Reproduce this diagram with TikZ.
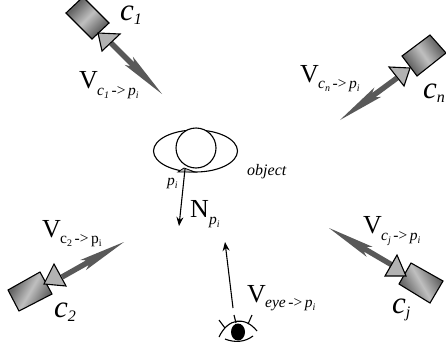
\documentclass[tikz,border=0pt]{standalone}
\usepackage{fontspec}
\setmainfont{Liberation Serif}
\usetikzlibrary{calc,arrows.meta}
\pgfdeclareverticalshading{camshade}{100bp}{color(0bp)=(black!60); color(30bp)=(black!60); color(50bp)=(black!25); color(70bp)=(black!60); color(100bp)=(black!60)}
\tikzset{
  x=1pt,y=-1pt,
  bodybox/.style={draw=black,line width=1.1pt,line join=miter,shading=camshade},
  lensbox/.style={draw=black,line width=1.1pt,line join=miter,fill=black!30},
  viewarrow/.style={fill=black!65,draw=none},
  thinarrow/.style={-{Stealth[length=9pt,width=7pt]},line width=1.1pt,black},
  outline/.style={draw=black,line width=1.1pt},
  vlabel/.style={inner sep=0pt,anchor=base west,text=black},
  sublabel/.style={inner sep=0pt,anchor=base west,text=black,font=\fontsize{15.5}{15.5}\selectfont},
  camlabel/.style={inner sep=0pt,anchor=base west,font=\fontsize{31}{31}\selectfont\itshape},
}
\newcommand{\bigV}[1]{\fontsize{26}{26}\selectfont #1}
\newcommand{\lowtext}[1]{\raisebox{-3pt}{\fontsize{10}{10}\selectfont #1}}
\newcommand{\lowcam}[1]{\raisebox{-4pt}{\fontsize{16}{16}\selectfont #1}}
\newcommand{\viewvec}[2]{%
  \fill[viewarrow]
    ($(#1)!2.7pt!-90:(#2)$) --
    ($(#2)!42pt!(#1)!2.7pt!-90:(#2)$) --
    ($(#2)!47pt!(#1)!5.8pt!-90:(#2)$) --
    (#2) --
    ($(#2)!47pt!(#1)!5.8pt!90:(#2)$) --
    ($(#2)!42pt!(#1)!2.7pt!90:(#2)$) --
    ($(#1)!2.7pt!90:(#2)$) -- cycle;}
\begin{document}
\begin{tikzpicture}
\useasboundingbox (0,0) rectangle (446,356);
% view vectors
\coordinate (s1) at (111,43);  \coordinate (t1) at (162,94);
\coordinate (sn) at (397,78);  \coordinate (tn) at (340,120);
\coordinate (s2) at (62,277);  \coordinate (t2) at (124,242);
\coordinate (sj) at (392,265); \coordinate (tj) at (329,228);
\viewvec{s1}{t1}
\viewvec{sn}{tn}
\viewvec{s2}{t2}
\viewvec{sj}{tj}
% cameras
\path[bodybox,shading angle=45] (66,13) -- (92,39) -- (109,23) -- (83,-3) -- cycle;
\path[lensbox] (98,33) -- (120,34) -- (102,51) -- cycle;
\path[bodybox,shading angle=-55] (402,56) -- (430,35) -- (446,53) -- (417,76) -- cycle;
\path[lensbox] (389,67) -- (410,68) -- (404,86) -- cycle;
\path[bodybox,shading angle=60] (8,290) -- (40,272) -- (52,294) -- (19,311) -- cycle;
\path[lensbox] (54,264) -- (66,286) -- (44,284) -- cycle;
\path[bodybox,shading angle=-60] (411,263) -- (443,281) -- (430,303) -- (399,284) -- cycle;
\path[lensbox] (397,255) -- (406,276) -- (385,276) -- cycle;
% object
\draw[outline] (195.5,151) ellipse [x radius=42,y radius=21];
\node[circle,draw=black,line width=1.1pt,fill=white,minimum size=40pt,inner sep=0pt] (ball) at (196,148) {};
\path[draw=black,line width=.8pt,fill=black!25] (184,168) -- (178,172) -- (195,172) -- cycle;
\coordinate (pi) at (185,169);
\coordinate (ntip) at (179,226);
\draw[thinarrow] (pi) -- (ntip);
% eye
\coordinate (eyefoot) at (233,308);
\coordinate (eyetip) at (225,242);
\draw[thinarrow] (eyefoot) -- (eyetip);
\fill[black] (238,332) ellipse [x radius=7,y radius=8.5];
\draw[outline] (219,337) .. controls (228,318) and (245,316) .. (257,331);
\draw[outline] (225,339) .. controls (235,343) and (245,342) .. (253,336);
\draw[outline] (219,320) -- (225,328);
\draw[outline] (234,315) -- (236,323);
\draw[outline] (252,315) -- (248,324);
% labels
\node[vlabel] (lv1) at (79,88) {\bigV{V}};
\node[sublabel] (ls1) at (97,95) {\textit{c}\lowtext{\textit{1}}\,{-}>\,\textit{p}\lowtext{\textit{i}}};
\node[vlabel] (lvn) at (300,82) {\bigV{V}};
\node[sublabel] (lsn) at (318,88) {\textit{c}\lowtext{\textit{n}}\,{-}>\,\textit{p}\lowtext{\textit{i}}};
\node[vlabel] (lv2) at (42,237) {\bigV{V}};
\node[sublabel] (ls2) at (60,243) {c\lowtext{2}\,{-}>\,p\lowtext{i}};
\node[vlabel] (lve) at (247,302) {\bigV{V}};
\node[sublabel] (lse) at (265,307) {\textit{eye}\,{-}>\,\textit{p}\lowtext{\textit{i}}};
\node[vlabel] (lvj) at (363,233) {\bigV{V}};
\node[sublabel] (lsj) at (381,240) {\textit{c}\lowtext{\textit{j}}\,{-}>\,\textit{p}\lowtext{\textit{i}}};
\node[vlabel] (ln) at (190,217) {\bigV{N}};
\node[sublabel] (lnp) at (209,224) {\textit{p}\lowtext{\textit{i}}};
\node[sublabel] (lpi) at (167,185) {\textit{p}\lowtext{\textit{i}}};
\node[sublabel,font=\fontsize{16}{16}\selectfont\itshape] (lobj) at (247,175) {object};
\node[camlabel] (c1) at (120,20) {c\lowcam{1}};
\node[camlabel] (cn) at (423,98) {c\lowcam{n}};
\node[camlabel] (c2) at (54,317) {c\lowcam{2}};
\node[camlabel] (cj) at (392,313) {c\lowcam{j}};
\end{tikzpicture}
\end{document}
